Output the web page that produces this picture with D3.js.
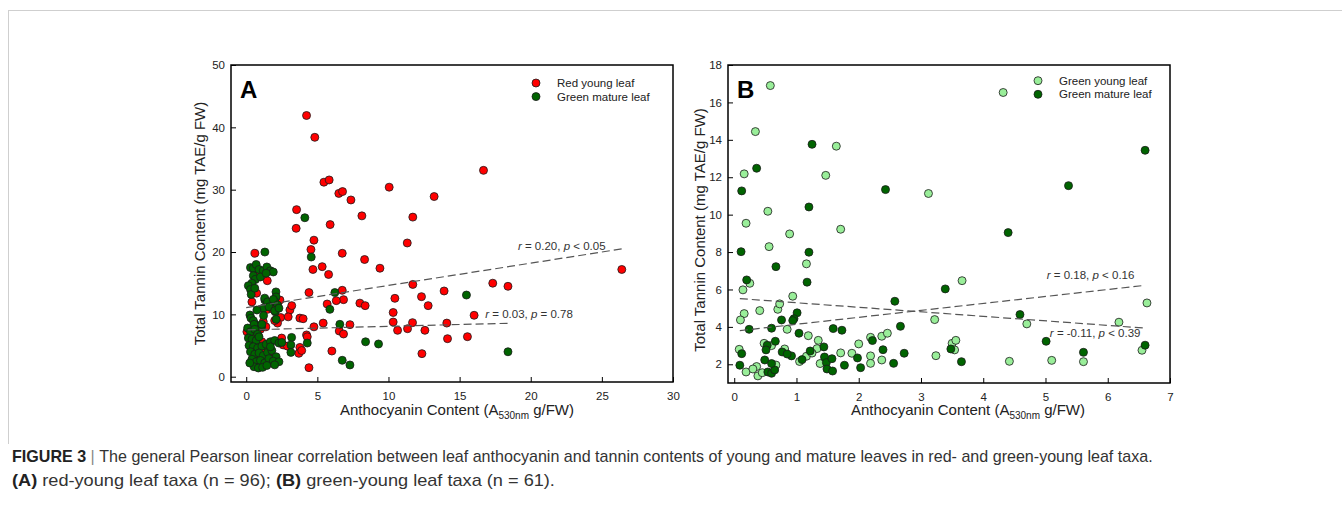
<!DOCTYPE html>
<html>
<head>
<meta charset="utf-8">
<script src="https://cdn.jsdelivr.net/npm/d3@7"></script>
<style>
  html, body { margin: 0; padding: 0; background: #fff; }
  svg { display: block; }
</style>
</head>
<body>
<svg id="chart" width="1342" height="513"></svg>
<script>
// ---------------- DATA ----------------
// Panel A: red-young leaf taxa
const xTicksA = [0, 5, 10, 15, 20, 25, 30];
const yTicksA = [0, 10, 20, 30, 40, 50];
const redYoungA = [
  [4.24,41.9],[4.82,38.4],[5.46,31.2],[5.83,31.56],[6.51,29.4],[6.77,29.7],[7.36,28.35],[10.05,30.4],
  [16.68,33.1],[13.21,28.9],[8.13,25.8],[11.71,25.6],[5.9,24.4],[11.32,21.45],[4.76,21.9],[4.55,20.4],
  [6.75,19.8],[8.32,18.8],[9.4,17.4],[4.69,17.2],[5.34,17.65],[5.79,16.4],[17.33,15.0],[18.4,14.5],
  [26.4,17.2],[4.41,13.5],[6.75,13.86],[6.84,12.36],[6.33,12.2],[5.69,11.66],[7.99,11.8],[8.36,11.4],
  [11.71,14.8],[13.91,13.75],[12.32,12.84],[10.45,12.57],[12.79,11.4],[10.33,10.3],[10.33,8.77],[10.64,7.44],
  [11.34,7.7],[11.69,8.67],[12.56,7.44],[14.1,8.6],[16.02,9.85],[14.15,6.1],[15.55,6.42],[12.35,3.7],
  [5.41,8.6],[4.76,8.0],[7.29,8.35],[6.54,7.33],[6.84,6.85],[6.02,4.12],[4.41,1.45],[4.24,6.7],
  [3.77,9.4],[3.54,26.8],[3.51,23.8],
  [0.61,19.8],[0.61,16.75],[1.48,15.4],[0.73,13.4],[2.37,12.3],[1.67,11.5],[3.07,10.7],[3.2,11.4],
  [4.0,9.3],[2.42,9.5],[2.95,9.6],[1.2,8.8],[0.05,7.2],[2.49,6.2],[2.6,5.1],[3.77,4.7],[3.7,3.75],
  [4.29,6.4],[1.2,4.55],[1.97,2.1],[1.1,5.6],[1.5,10.8],[1.38,8.0],[0.33,6.4],[0.8,3.2],[1.4,2.9],
  [2.2,8.6],[1.85,10.9],[0.9,16.9],[0.5,5.5],[1.6,3.5],[2.9,4.9],[3.9,4.2],[1.2,1.9],[0.4,12.0],
  [2.0,9.0],[1.0,7.6]
];
const greenMatureA = [
  [4.12,25.5],[4.57,19.2],[6.23,13.5],[5.88,10.8],[15.48,13.1],[6.58,8.4],[8.39,5.6],[9.3,5.25],
  [6.75,2.63],[7.29,1.88],[4.29,5.4],[18.4,4.0],[1.31,20.0],[3.19,6.3],[3.14,5.1],[3.14,3.9],
  [2.09,13.6],[2.1,12.8],[2.02,12.0],[2.04,10.4],[1.31,12.3],[1.2,11.0],[1.22,9.8],[0.26,9.9],
  [0.33,9.4],[0.61,8.45],[1.08,8.0],
  [0.3,17.5],[0.5,17.4],[0.7,18.0],[0.9,17.2],[1.2,17.0],[1.45,17.6],[1.7,17.0],[1.9,16.8],
  [0.5,16.2],[0.65,15.6],[0.4,15.0],[0.15,14.6],[0.3,14.0],[0.35,13.2],[0.6,14.2],[1.0,16.0],[1.4,16.6],
  [1.3,12.6],[1.5,12.0],[1.9,12.4],[2.2,11.5],[1.6,11.2],[0.75,10.7],[2.0,10.6],[2.1,9.2],[0.5,9.0],
  [0.55,8.4],[1.1,8.4],[2.3,11.0],
  [0.1,7.8],[0.3,7.2],[0.6,7.6],[0.8,6.8],[0.15,6.2],[0.4,6.0],[0.7,5.8],[0.9,6.4],[0.2,5.0],[0.5,4.8],
  [0.8,4.6],[1.1,4.9],[1.4,5.2],[1.7,5.6],[2.0,5.8],[2.3,5.4],[0.3,4.0],[0.6,3.6],[0.9,3.8],[1.2,3.4],
  [1.5,3.9],[1.8,4.2],[2.1,3.2],[0.4,2.8],[0.7,2.4],[1.0,2.6],[1.3,2.2],[1.6,2.9],[1.9,2.5],[2.3,2.4],
  [0.55,1.6],[0.85,1.4],[1.15,1.5],[1.45,1.8],[2.0,1.9],[0.25,2.2],[1.7,4.8],[2.5,5.5]
];
// fitted lines: [x0, y0, x1, y1]
const trendA = [[0, 11.07, 26.4, 20.5], [0.1, 7.51, 18.4, 8.57]];
const labelsA = [
  {x: 19.1, y: 20.3, r: "0.20", op: "<", p: "0.05"},
  {x: 16.8, y: 9.45, r: "0.03", op: "=", p: "0.78"}
];

// Panel B: green-young leaf taxa
const xTicksB = [0, 1, 2, 3, 4, 5, 6, 7];
const yTicksB = [2, 4, 6, 8, 10, 12, 14, 16, 18];
const greenYoungB = [
  [0.58,16.9],[4.32,16.53],[0.34,14.44],[1.64,13.66],[0.16,12.18],[1.47,12.1],[3.12,11.13],[0.54,10.18],
  [0.19,9.54],[1.71,9.22],[0.89,8.97],[0.56,8.29],[1.16,7.37],[0.14,5.98],[0.25,6.33],[3.66,6.47],
  [0.94,5.64],[0.16,4.71],[0.1,4.37],[0.41,4.87],[0.7,4.94],[0.73,5.23],[0.85,3.87],[1.19,3.53],
  [3.22,4.39],[4.7,4.16],[6.18,4.25],[6.63,5.28],[1.35,3.28],[1.33,2.84],[1.38,2.04],[1.16,2.43],
  [0.81,2.82],[0.48,3.12],[0.08,2.8],[0.19,1.59],[0.36,1.88],[0.38,1.38],[0.67,1.96],[1.71,2.61],
  [1.89,2.59],[2.0,3.09],[2.19,3.44],[2.37,3.5],[2.46,3.66],[2.19,2.45],[2.19,2.05],[2.37,2.23],
  [3.24,2.46],[3.5,3.12],[3.56,3.28],[3.54,2.77],[4.42,2.16],[5.1,2.21],[5.61,2.14],[6.55,2.75],
  [0.6,3.0],[1.05,2.15],[0.45,1.55],[0.3,1.75],[1.25,2.6]
];
const greenMatureB = [
  [1.25,13.76],[0.36,12.48],[0.12,11.27],[2.43,11.34],[5.37,11.55],[6.6,13.44],[1.2,10.41],[4.4,9.04],
  [0.11,8.02],[1.2,7.99],[0.67,7.22],[0.2,6.51],[1.17,6.39],[3.39,6.03],[2.58,5.37],[4.59,4.66],
  [2.67,4.03],[5.01,3.23],[6.6,3.02],[5.61,2.64],[0.24,3.87],[0.6,3.93],[1.01,4.75],[0.96,4.44],
  [0.94,4.34],[0.76,4.37],[1.04,3.66],[1.59,3.91],[1.73,3.82],[2.22,3.27],[0.66,3.23],[0.53,3.02],
  [0.51,2.77],[0.77,2.66],[0.92,2.45],[0.85,2.55],[1.44,2.93],[1.22,2.71],[1.09,2.25],[1.45,2.39],
  [1.48,2.09],[1.57,2.3],[1.49,1.75],[1.58,1.64],[1.77,1.95],[1.98,2.34],[2.03,1.82],[2.39,2.78],
  [2.56,2.05],[2.73,2.59],[3.48,2.82],[3.65,2.14],[0.12,2.57],[0.09,1.95],[0.49,2.23],[0.54,1.59],
  [0.6,1.52],[0.65,1.7],[0.6,2.04]
];
const trendB = [[0.09, 3.8, 6.6, 6.22], [0.09, 5.51, 6.62, 3.93]];
const labelsB = [
  {x: 5.02, y: 6.55, r: "0.18", op: "<", p: "0.16"},
  {x: 5.07, y: 3.45, r: "-0.11", op: "<", p: "0.39"}
];

// ---------------- DRAWING ----------------
const svg = d3.select("#chart");
const FONT = "'Liberation Sans', Arial, Helvetica, sans-serif";

// outer figure border (light)
svg.append("line").attr("x1", 8).attr("x2", 1342).attr("y1", 10.5).attr("y2", 10.5)
  .attr("stroke", "#cfcfcf").attr("stroke-width", 1);
svg.append("line").attr("x1", 8.5).attr("x2", 8.5).attr("y1", 10).attr("y2", 444)
  .attr("stroke", "#cfcfcf").attr("stroke-width", 1);

function panel(cfg) {
  const x = d3.scaleLinear().domain(cfg.xDomain).range(cfg.xRange);
  const y = d3.scaleLinear().domain(cfg.yDomain).range(cfg.yRange);
  const g = svg.append("g");

  // axes (ticks inside)
  const gx = g.append("g").attr("transform", `translate(0,${cfg.yRange[0]})`)
    .call(d3.axisBottom(x).tickValues(cfg.xTicks).tickSize(-5).tickPadding(10).tickFormat(d3.format("d")));
  const gy = g.append("g").attr("transform", `translate(${cfg.xRange[0]},0)`)
    .call(d3.axisLeft(y).tickValues(cfg.yTicks).tickSize(-5).tickPadding(6).tickFormat(d3.format("d")));
  [gx, gy].forEach(a => {
    a.select(".domain").remove();
    a.selectAll(".tick line").attr("stroke", "#000").attr("stroke-width", 1);
    a.selectAll(".tick text").attr("fill", "#222").style("font-family", FONT).style("font-size", "11.5px");
  });

  // series
  cfg.series.forEach(s => {
    g.append("g").selectAll("circle").data(s.data).join("circle")
      .attr("cx", d => x(d[0])).attr("cy", d => y(d[1])).attr("r", 4)
      .attr("fill", s.color).attr("stroke", "#1a1a1a").attr("stroke-width", 0.8);
  });

  // trend lines
  g.append("g").selectAll("line").data(cfg.trends).join("line")
    .attr("x1", d => x(d[0])).attr("y1", d => y(d[1]))
    .attr("x2", d => x(d[2])).attr("y2", d => y(d[3]))
    .attr("stroke", "#555").attr("stroke-width", 1.2).attr("stroke-dasharray", "8,4");

  // r/p labels
  cfg.labels.forEach(l => {
    const t = g.append("text").attr("x", x(l.x)).attr("y", y(l.y))
      .style("font-family", FONT).style("font-size", "11.5px").attr("fill", "#333");
    t.append("tspan").style("font-style", "italic").text("r");
    t.append("tspan").text(` = ${l.r}, `);
    t.append("tspan").style("font-style", "italic").text("p");
    t.append("tspan").text(` ${l.op} ${l.p}`);
  });

  // frame
  g.append("rect").attr("x", cfg.xRange[0]).attr("y", cfg.yRange[1])
    .attr("width", cfg.xRange[1] - cfg.xRange[0]).attr("height", cfg.yRange[0] - cfg.yRange[1])
    .attr("fill", "none").attr("stroke", "#000").attr("stroke-width", 1.5);

  // panel letter
  g.append("text").attr("x", cfg.xRange[0] + cfg.letterDx).attr("y", 98)
    .style("font-family", FONT).style("font-size", "24px").style("font-weight", "bold")
    .attr("fill", "#000").text(cfg.letter);

  // legend
  cfg.series.forEach((s, i) => {
    const ly = cfg.legendY + i * 13.6;
    g.append("circle").attr("cx", cfg.legendX).attr("cy", ly).attr("r", 4)
      .attr("fill", s.color).attr("stroke", "#1a1a1a").attr("stroke-width", 0.8);
    g.append("text").attr("x", cfg.legendX + 21).attr("y", ly + 4)
      .style("font-family", FONT).style("font-size", "11.5px").attr("fill", "#222").text(s.name);
  });

  // axis titles
  const xt = g.append("text").attr("x", cfg.xTitleX).attr("y", 415).attr("text-anchor", "middle")
    .style("font-family", FONT).style("font-size", "15px").attr("fill", "#222");
  xt.append("tspan").text("Anthocyanin Content (A");
  xt.append("tspan").attr("dy", 4).style("font-size", "10px").text("530nm");
  xt.append("tspan").attr("dy", -4).text(" g/FW)");

  g.append("text").attr("transform", `translate(${cfg.yTitleX},${cfg.yTitleY}) rotate(-90)`)
    .attr("text-anchor", "middle").style("font-family", FONT).style("font-size", "15px")
    .attr("fill", "#222").text("Total Tannin Content (mg TAE/g FW)");
}

panel({
  xDomain: [-1.07, 30], xRange: [231, 673],
  yDomain: [-0.85, 50], yRange: [382, 65],
  xTicks: xTicksA, yTicks: yTicksA,
  series: [
    {name: "Red young leaf", color: "#ff0000", data: redYoungA},
    {name: "Green mature leaf", color: "#006400", data: greenMatureA}
  ],
  trends: trendA, labels: labelsA,
  letter: "A", letterDx: 9,
  legendX: 536, legendY: 83,
  xTitleX: 457, yTitleX: 205, yTitleY: 223.5
});

panel({
  xDomain: [-0.1, 7], xRange: [728, 1170],
  yDomain: [1, 18], yRange: [383, 65],
  xTicks: xTicksB, yTicks: yTicksB,
  series: [
    {name: "Green young leaf", color: "#99ee99", data: greenYoungB},
    {name: "Green mature leaf", color: "#006400", data: greenMatureB}
  ],
  trends: trendB, labels: labelsB,
  letter: "B", letterDx: 9,
  legendX: 1038, legendY: 80.7,
  xTitleX: 968, yTitleX: 705, yTitleY: 230
});

// ---------------- CAPTION ----------------
const CAPFONT = "'Liberation Sans Narrow', 'Liberation Sans', Arial, sans-serif";
const cap1 = svg.append("text").attr("x", 0).attr("y", 0)
  .style("font-family", CAPFONT).style("font-size", "16px").attr("fill", "#333");
cap1.append("tspan").style("font-weight", "bold").attr("fill", "#222").text("FIGURE 3");
cap1.append("tspan").attr("fill", "#888").text(" | ");
cap1.append("tspan").text("The general Pearson linear correlation between leaf anthocyanin and tannin contents of young and mature leaves in red- and green-young leaf taxa.");
const cap2 = svg.append("text").attr("x", 0).attr("y", 0)
  .style("font-family", CAPFONT).style("font-size", "16px").attr("fill", "#333");
cap2.append("tspan").style("font-weight", "bold").attr("fill", "#222").text("(A)");
cap2.append("tspan").text(" red-young leaf taxa (n = 96); ");
cap2.append("tspan").style("font-weight", "bold").attr("fill", "#222").text("(B)");
cap2.append("tspan").text(" green-young leaf taxa (n = 61).");
const sx1 = 1141 / cap1.node().getComputedTextLength();
const sx2 = 543 / cap2.node().getComputedTextLength();
cap1.attr("transform", `translate(12,462) scale(${sx1},1)`);
cap2.attr("transform", `translate(12,486) scale(${sx2},1)`);
</script>
</body>
</html>
